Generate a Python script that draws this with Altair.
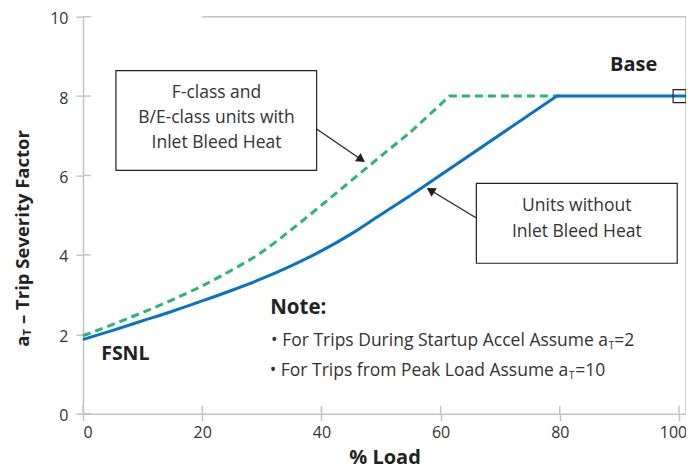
import altair as alt
import pandas as pd

# ---- data ----
blue_x = [0, 5, 10, 15, 20, 25, 30, 35, 40, 45, 50, 55, 79.5, 101.2]
blue_y = [1.87, 2.10, 2.34, 2.58, 2.84, 3.11, 3.40, 3.73, 4.10, 4.53, 5.02, 5.50, 8.0, 8.0]
green_x = [0, 5, 10, 15, 20, 25, 30, 35, 40, 45, 50, 55, 61.5, 80]
green_y = [1.96, 2.25, 2.55, 2.87, 3.22, 3.62, 4.07, 4.64, 5.25, 5.87, 6.49, 7.10, 8.0, 8.0]
x_ticks = [0, 20, 40, 60, 80, 100]
y_ticks = [0, 2, 4, 6, 8, 10]
base_point = {"x": [100.1], "y": [8.0]}

box1_lines = ["F-class and", "B/E-class units with", "Inlet Bleed Heat"]
box2_lines = ["Units without", "Inlet Bleed Heat"]

FONT = "Open Sans"
DARK = "#333333"
BLACK = "#222222"
BLUE = "#0a72c2"
GREEN = "#2bb673"
AXIS_GRAY = "#c4c4c4"
W, H = 603, 397
XMAX = 101.17

xs = alt.Scale(domain=[0, XMAX], nice=False, zero=False)
ys = alt.Scale(domain=[0, 10], nice=False, zero=False)
xaxis = alt.Axis(values=x_ticks, grid=False, title="% Load",
                 labelOffset={"expr": "datum.value == 100 ? -6 : 0"})
yaxis = alt.Axis(values=y_ticks, grid=False, title=None, labelOffset=2)


def X(f="x"):
    return alt.X(f + ":Q", scale=xs, axis=xaxis)


def Y(f="y"):
    return alt.Y(f + ":Q", scale=ys, axis=yaxis)


def text_layer(x, y, texts, **kw):
    df = pd.DataFrame({"x": x, "y": y, "t": texts})
    props = dict(font=FONT, color=DARK, fontSize=17.5)
    props.update(kw)
    return alt.Chart(df).mark_text(**props).encode(x=X(), y=Y(), text="t:N")


def line_layer(xv, yv, **kw):
    return alt.Chart(pd.DataFrame({"x": xv, "y": yv})).mark_line(**kw).encode(x=X(), y=Y())


# curved lower parts (smooth) and straight upper parts
g_curve = line_layer(green_x[:12], green_y[:12], color=GREEN, strokeWidth=3, strokeDash=[8, 5], interpolate="monotone")
g_straight = line_layer(green_x[11:], green_y[11:], color=GREEN, strokeWidth=3, strokeDash=[8, 5])
b_curve = line_layer(blue_x[:12], blue_y[:12], color=BLUE, strokeWidth=3, interpolate="monotone")
b_straight = line_layer(blue_x[11:], blue_y[11:], color=BLUE, strokeWidth=3)

# borders (top and right)
borders = pd.DataFrame({"x": [20, XMAX], "x2": [XMAX, XMAX], "y": [10, 0], "y2": [10, 10]})
border_layer = alt.Chart(borders).mark_rule(color=AXIS_GRAY, strokeWidth=1.5).encode(
    x=X(), x2="x2:Q", y=Y(), y2="y2:Q"
)
# inner halves of ticks
xt_in = alt.Chart(pd.DataFrame({"x": x_ticks})).mark_rule(color=AXIS_GRAY, strokeWidth=1.5).encode(
    x=X(), y=alt.value(H), y2=alt.value(H - 8)
)
yt_in = alt.Chart(pd.DataFrame({"y": y_ticks})).mark_rule(color=AXIS_GRAY, strokeWidth=1.5).encode(
    y=Y(), x=alt.value(0), x2=alt.value(8)
)

# boxes
boxes = pd.DataFrame({"x": [5.52, 66.0], "x2": [39.2, 99.7], "y": [8.64, 5.80], "y2": [6.13, 3.79]})
box_layer = alt.Chart(boxes).mark_rect(fill="white", stroke=BLACK, strokeWidth=1.2).encode(
    x=X(), x2="x2:Q", y=Y(), y2="y2:Q"
)
box1_text = text_layer([22.4] * 3, [8.08, 7.45, 6.82], box1_lines, align="center", baseline="middle")
box2_text = text_layer([82.85] * 2, [5.23, 4.58], box2_lines, align="center", baseline="middle")

# arrows
arrows = pd.DataFrame({"x": [39.2, 66.0], "y": [7.17, 4.93], "x2": [46.67, 58.3], "y2": [6.40, 5.63]})
arrow_lines = alt.Chart(arrows).mark_rule(color=BLACK, strokeWidth=1.2).encode(
    x=X(), y=Y(), x2="x2:Q", y2="y2:Q"
)
head1 = alt.Chart(pd.DataFrame({"x": [46.7], "y": [6.40]})).mark_point(
    shape="triangle-up", filled=True, color=BLACK, size=100, angle=124.8, opacity=1
).encode(x=X(), y=Y())
head2 = alt.Chart(pd.DataFrame({"x": [58.3], "y": [5.63]})).mark_point(
    shape="triangle-up", filled=True, color=BLACK, size=100, angle=301.5, opacity=1
).encode(x=X(), y=Y())

square = alt.Chart(pd.DataFrame(base_point)).mark_point(
    shape="square", filled=False, stroke=BLACK, strokeWidth=1.2, size=169, opacity=1
).encode(x=X(), y=Y())

# labels
base_t = text_layer([92.4], [8.78], ["Base"], fontSize=20, fontWeight="bold", align="center", baseline="middle", color=BLACK)
fsnl_t = text_layer([7.1], [1.50], ["FSNL"], fontSize=19.5, fontWeight="bold", align="center", baseline="middle", color=BLACK)
note_t = text_layer([31.4], [2.65], ["Note:"], fontSize=20.5, fontWeight="bold", align="left", baseline="middle", color=BLACK)

b_main = text_layer([88.1, 81.4], [1.83, 1.07],
                    ["\u2022 For Trips During Startup Accel Assume a", "\u2022 For Trips from Peak Load Assume a"],
                    align="right", baseline="middle")
b_sub = text_layer([88.1, 81.4], [1.83, 1.07], ["T", "T"], fontSize=10.5, align="left", baseline="middle", dy=5, dx=0.5)
b_end = text_layer([89.15, 82.6], [1.83, 1.07], ["=2", "=10"], align="left", baseline="middle")

# y title (rotated, with subscript)
YT_X = -10.15
yt_a = text_layer([YT_X], [1.97], ["a"], fontSize=18.5, fontWeight="bold", angle=270, align="right", baseline="middle", color=BLACK)
yt_T = text_layer([YT_X], [1.97], ["T"], fontSize=11, fontWeight="bold", angle=270, align="left", baseline="middle", dy=5, color=BLACK)
yt_rest = text_layer([YT_X], [2.26], ["\u2013 Trip Severity Factor"], fontSize=18.5, fontWeight="bold", angle=270, align="left", baseline="middle", color=BLACK)

chart = alt.layer(
    border_layer, xt_in, yt_in, g_curve, g_straight, b_curve, b_straight, arrow_lines, head1, head2,
    box_layer, box1_text, box2_text, square, base_t, fsnl_t, note_t, b_main, b_sub, b_end,
    yt_a, yt_T, yt_rest
).properties(
    width=W, height=H,
    autosize=alt.AutoSizeParams(type="none"),
    padding={"left": 75, "top": 8.7, "right": 0, "bottom": 58},
    background="white",
).configure_view(stroke=None).configure_axis(
    domainColor=AXIS_GRAY, domainWidth=1.5, tickColor=AXIS_GRAY, tickWidth=1.5, tickSize=7,
    labelFont=FONT, labelFontSize=16, labelColor=DARK, titleFont=FONT, titleFontSize=20,
    titleFontWeight="bold", titleColor=BLACK
).configure_axisX(labelPadding=4, titlePadding=7).configure_axisY(labelPadding=8)

chart.save("out.html", embed_options={"renderer": "svg", "actions": False})
